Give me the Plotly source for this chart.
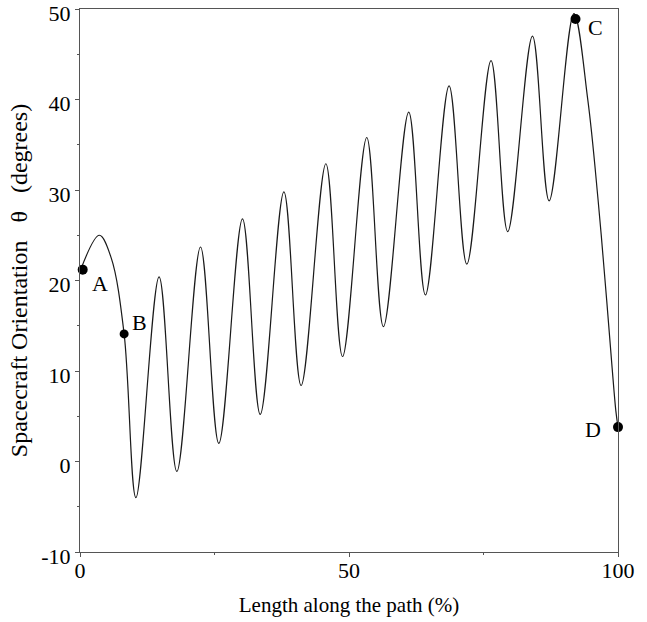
import plotly.graph_objects as go

# Curve samples (x = % of path, y = degrees)
path_x = [0.0, 3.6, 5.8, 8.2, 10.4, 14.7, 18.0, 22.4, 25.8, 30.2, 33.5, 37.9, 41.1,
          45.7, 48.8, 53.3, 56.4, 61.1, 64.2, 68.6, 71.9, 76.4, 79.5, 84.1, 87.2,
          91.8, 94.4, 96.3, 97.9, 98.9, 99.6, 100.0]
path_y = [21.0, 25.0, 22.5, 14.1, -4.0, 20.4, -1.1, 23.7, 2.0, 26.8, 5.2, 29.8, 8.4,
          32.9, 11.6, 35.8, 14.9, 38.6, 18.4, 41.5, 21.8, 44.3, 25.4, 47.0, 28.8,
          49.5, 39.9, 28.9, 17.8, 10.4, 5.6, 3.8]

# Marked points
pt_labels = ["A", "B", "C", "D"]
pt_x = [0.5, 8.2, 92.1, 100.0]
pt_y = [21.2, 14.1, 48.9, 3.8]

# Axis ticks
x_ticks = [0, 50, 100]
y_ticks = [-10, 0, 10, 20, 30, 40, 50]

FONT = "Liberation Serif, Times New Roman, serif"
NB = "\u00a0"

fig = go.Figure()
fig.add_trace(go.Scatter(
    x=path_x, y=path_y, mode="lines",
    line=dict(color="#1a1a1a", width=1.2, shape="spline", smoothing=1.0),
    hoverinfo="skip", showlegend=False))
fig.add_trace(go.Scatter(
    x=pt_x, y=pt_y, mode="markers",
    marker=dict(color="#000000", size=[10, 9, 10, 10], opacity=1, line=dict(width=0)),
    cliponaxis=False, showlegend=False, hoverinfo="skip"))

offsets = {"A": (17, -14), "B": (15, 11), "C": (20, -9), "D": (-25, -2)}
for lab, x, y in zip(pt_labels, pt_x, pt_y):
    dx, dy = offsets[lab]
    fig.add_annotation(x=x, y=y, text=lab, showarrow=False, xshift=dx, yshift=dy,
                       font=dict(family=FONT, size=22, color="black"))

axis_common = dict(showline=True, linecolor="#555", linewidth=1, mirror=True,
                   showgrid=False, zeroline=False, ticks="outside", ticklen=4,
                   tickcolor="#555", automargin=False, ticklabeloverflow="allow",
                   tickfont=dict(family=FONT, size=22, color="black"))

fig.update_xaxes(range=[0, 100], tickvals=x_ticks, ticktext=[str(v) for v in x_ticks],
                 ticklabelstandoff=-5,
                 minor=dict(dtick=25, tick0=0, ticks="outside", ticklen=2, tickcolor="#555"),
                 title=dict(text="Length along the path (%)", standoff=14,
                            font=dict(family=FONT, size=21, color="black")),
                 **axis_common)
fig.update_yaxes(range=[-10, 50], tickvals=y_ticks, ticktext=[str(v) for v in y_ticks],
                 ticklabelshift=4,
                 minor=dict(dtick=5, tick0=0, ticks="outside", ticklen=2, tickcolor="#555"),
                 title=dict(text="Spacecraft Orientation" + NB * 3 + "θ" + NB * 3 + "(degrees)",
                            standoff=6, font=dict(family=FONT, size=24, color="black")),
                 **axis_common)

fig.update_layout(width=647, height=622, margin=dict(l=80, r=29, t=9, b=70),
                  plot_bgcolor="white", paper_bgcolor="white")

fig.write_html("out.html", config={"displayModeBar": False},
               post_script="document.body.style.margin='0';")
